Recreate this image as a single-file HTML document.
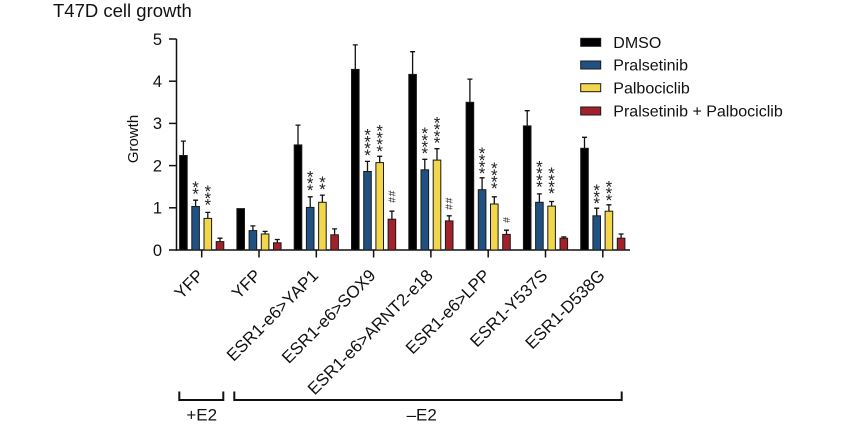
<!DOCTYPE html>
<html><head><meta charset="utf-8"><style>
html,body{margin:0;padding:0;background:#fff;}
svg{display:block;font-family:"Liberation Sans",Arial,sans-serif;}
</style></head><body>
<svg width="864" height="432" viewBox="0 0 864 432" xmlns="http://www.w3.org/2000/svg">
<text x="53" y="17" font-size="18.5" fill="#111">T47D cell growth</text>

<!-- y axis -->
<g stroke="#111" stroke-width="1.5" fill="none">
<line x1="176.5" y1="39" x2="176.5" y2="250.7"/>
<line x1="169" y1="250" x2="176.5" y2="250"/>
<line x1="169" y1="207.8" x2="176.5" y2="207.8"/>
<line x1="169" y1="165.6" x2="176.5" y2="165.6"/>
<line x1="169" y1="123.4" x2="176.5" y2="123.4"/>
<line x1="169" y1="81.2" x2="176.5" y2="81.2"/>
<line x1="169" y1="39" x2="176.5" y2="39"/>
<line x1="175.8" y1="250" x2="630" y2="250"/>
<line x1="201.7" y1="250" x2="201.7" y2="257.5"/>
<line x1="259" y1="250" x2="259" y2="257.5"/>
<line x1="316.3" y1="250" x2="316.3" y2="257.5"/>
<line x1="373.6" y1="250" x2="373.6" y2="257.5"/>
<line x1="430.9" y1="250" x2="430.9" y2="257.5"/>
<line x1="488.2" y1="250" x2="488.2" y2="257.5"/>
<line x1="545.5" y1="250" x2="545.5" y2="257.5"/>
<line x1="602.8" y1="250" x2="602.8" y2="257.5"/>
</g>
<g font-size="16.5" fill="#111" text-anchor="end">
<text x="162" y="255.8">0</text>
<text x="162" y="213.6">1</text>
<text x="162" y="171.4">2</text>
<text x="162" y="129.2">3</text>
<text x="162" y="87">4</text>
<text x="162" y="44.8">5</text>
</g>
<text transform="translate(138,139) rotate(-90)" text-anchor="middle" font-size="15" fill="#111">Growth</text>

<!-- error bars -->
<g stroke="#111" stroke-width="1.3" fill="none">
<path d="M183.4 155.5V141.1M180.9 141.1H185.9"/>
<path d="M195.6 206.5V200.2M193.1 200.2H198.1"/>
<path d="M207.8 218.4V212.4M205.3 212.4H210.3"/>
<path d="M220 241.6V238.2M217.5 238.2H222.5"/>

<path d="M252.9 230.6V225.9M250.4 225.9H255.4"/>
<path d="M265.1 234V231.4M262.6 231.4H267.6"/>
<path d="M277.3 242.8V239.5M274.8 239.5H279.8"/>

<path d="M298 144.9V125.1M295.5 125.1H300.5"/>
<path d="M310.2 207.4V196.8M307.7 196.8H312.7"/>
<path d="M322.4 202.3V195.1M319.9 195.1H324.9"/>
<path d="M334.6 234.8V228.9M332.1 228.9H337.1"/>

<path d="M355.3 69.4V44.9M352.8 44.9H357.8"/>
<path d="M367.5 171.5V161.4M365 161.4H370"/>
<path d="M379.7 162.6V156.3M377.2 156.3H382.2"/>
<path d="M391.9 219.2V211.2M389.4 211.2H394.4"/>

<path d="M412.6 74.4V51.7M410.1 51.7H415.1"/>
<path d="M424.8 169.8V159.3M422.3 159.3H427.3"/>
<path d="M437 160.1V148.7M434.5 148.7H439.5"/>
<path d="M449.2 220.9V215.8M446.7 215.8H451.7"/>

<path d="M469.9 102.3V79.1M467.4 79.1H472.4"/>
<path d="M482.1 189.7V177.8M479.6 177.8H484.6"/>
<path d="M494.3 204V196.8M491.8 196.8H496.8"/>
<path d="M506.5 234.4V230.2M504 230.2H509"/>

<path d="M527.2 125.9V110.7M524.7 110.7H529.7"/>
<path d="M539.4 202.3V193.9M536.9 193.9H541.9"/>
<path d="M551.6 206.1V201.5M549.1 201.5H554.1"/>
<path d="M563.8 238.2V236.9M561.3 236.9H566.3"/>

<path d="M584.5 148.3V137.3M582 137.3H587"/>
<path d="M596.7 215.8V208.2M594.2 208.2H599.2"/>
<path d="M608.9 211.2V204.8M606.4 204.8H611.4"/>
<path d="M621.1 238.2V234M618.6 234H623.6"/>
</g>

<!-- bars -->
<g stroke="#1a1a1a" stroke-width="1">
<g fill="#000">
<rect x="179.6" y="155.5" width="7.6" height="94.5"/>
<rect x="236.9" y="208.6" width="7.6" height="41.4"/>
<rect x="294.2" y="144.9" width="7.6" height="105.1"/>
<rect x="351.5" y="69.4" width="7.6" height="180.6"/>
<rect x="408.8" y="74.4" width="7.6" height="175.6"/>
<rect x="466.1" y="102.3" width="7.6" height="147.7"/>
<rect x="523.4" y="125.9" width="7.6" height="124.1"/>
<rect x="580.7" y="148.3" width="7.6" height="101.7"/>
</g>
<g fill="#1f5282">
<rect x="191.8" y="206.5" width="7.6" height="43.5"/>
<rect x="249.1" y="230.6" width="7.6" height="19.4"/>
<rect x="306.4" y="207.4" width="7.6" height="42.6"/>
<rect x="363.7" y="171.5" width="7.6" height="78.5"/>
<rect x="421" y="169.8" width="7.6" height="80.2"/>
<rect x="478.3" y="189.7" width="7.6" height="60.3"/>
<rect x="535.6" y="202.3" width="7.6" height="47.7"/>
<rect x="592.9" y="215.8" width="7.6" height="34.2"/>
</g>
<g fill="#f2d64b">
<rect x="204" y="218.4" width="7.6" height="31.6"/>
<rect x="261.3" y="234" width="7.6" height="16"/>
<rect x="318.6" y="202.3" width="7.6" height="47.7"/>
<rect x="375.9" y="162.6" width="7.6" height="87.4"/>
<rect x="433.2" y="160.1" width="7.6" height="89.9"/>
<rect x="490.5" y="204" width="7.6" height="46"/>
<rect x="547.8" y="206.1" width="7.6" height="43.9"/>
<rect x="605.1" y="211.2" width="7.6" height="38.8"/>
</g>
<g fill="#a3212a">
<rect x="216.2" y="241.6" width="7.6" height="8.4"/>
<rect x="273.5" y="242.8" width="7.6" height="7.2"/>
<rect x="330.8" y="234.8" width="7.6" height="15.2"/>
<rect x="388.1" y="219.2" width="7.6" height="30.8"/>
<rect x="445.4" y="220.9" width="7.6" height="29.1"/>
<rect x="502.7" y="234.4" width="7.6" height="15.6"/>
<rect x="560" y="238.2" width="7.6" height="11.8"/>
<rect x="617.3" y="238.2" width="7.6" height="11.8"/>
</g>
</g>

<!-- significance stars -->
<g font-size="17" fill="#222" text-anchor="middle" transform="translate(0,0.5)">
<text><tspan x="195.6" y="199">*</tspan><tspan x="195.6" y="192.3">*</tspan></text>
<text><tspan x="207.8" y="210">*</tspan><tspan x="207.8" y="203.3">*</tspan><tspan x="207.8" y="196.6">*</tspan></text>
<text><tspan x="310.2" y="195.3">*</tspan><tspan x="310.2" y="188.6">*</tspan><tspan x="310.2" y="181.9">*</tspan></text>
<text><tspan x="322.4" y="194.3">*</tspan><tspan x="322.4" y="187.6">*</tspan></text>
<text><tspan x="367.5" y="160.3">*</tspan><tspan x="367.5" y="153.6">*</tspan><tspan x="367.5" y="146.9">*</tspan><tspan x="367.5" y="140.2">*</tspan></text>
<text><tspan x="379.7" y="156.3">*</tspan><tspan x="379.7" y="149.6">*</tspan><tspan x="379.7" y="142.9">*</tspan><tspan x="379.7" y="136.2">*</tspan></text>
<text><tspan x="424.8" y="158.7">*</tspan><tspan x="424.8" y="152">*</tspan><tspan x="424.8" y="145.3">*</tspan><tspan x="424.8" y="138.6">*</tspan></text>
<text><tspan x="437" y="148">*</tspan><tspan x="437" y="141.3">*</tspan><tspan x="437" y="134.6">*</tspan><tspan x="437" y="127.9">*</tspan></text>
<text><tspan x="482.1" y="178.7">*</tspan><tspan x="482.1" y="172">*</tspan><tspan x="482.1" y="165.3">*</tspan><tspan x="482.1" y="158.6">*</tspan></text>
<text><tspan x="494.3" y="193.7">*</tspan><tspan x="494.3" y="187">*</tspan><tspan x="494.3" y="180.3">*</tspan><tspan x="494.3" y="173.6">*</tspan></text>
<text><tspan x="539.4" y="192">*</tspan><tspan x="539.4" y="185.3">*</tspan><tspan x="539.4" y="178.6">*</tspan><tspan x="539.4" y="171.9">*</tspan></text>
<text><tspan x="551.6" y="198.7">*</tspan><tspan x="551.6" y="192">*</tspan><tspan x="551.6" y="185.3">*</tspan><tspan x="551.6" y="178.6">*</tspan></text>
<text><tspan x="596.7" y="208.7">*</tspan><tspan x="596.7" y="202">*</tspan><tspan x="596.7" y="195.3">*</tspan></text>
<text><tspan x="608.9" y="205.3">*</tspan><tspan x="608.9" y="198.6">*</tspan><tspan x="608.9" y="191.9">*</tspan></text>
</g>
<g font-size="10" fill="#222" text-anchor="middle">
<text transform="translate(391.9,193.5) rotate(90)" dy="3.6">#</text>
<text transform="translate(391.9,200) rotate(90)" dy="3.6">#</text>
<text transform="translate(449.2,200.5) rotate(90)" dy="3.6">#</text>
<text transform="translate(449.2,207) rotate(90)" dy="3.6">#</text>
<text transform="translate(506.5,220) rotate(90)" dy="3.6">#</text>
</g>

<!-- x labels -->
<g font-size="17" fill="#111" text-anchor="end">
<text transform="translate(204.7,276.5) rotate(-45)">YFP</text>
<text transform="translate(262,276.5) rotate(-45)">YFP</text>
<text transform="translate(319.3,276.5) rotate(-45)">ESR1-e6&gt;YAP1</text>
<text transform="translate(376.6,276.5) rotate(-45)">ESR1-e6&gt;SOX9</text>
<text transform="translate(433.9,276.5) rotate(-45)">ESR1-e6&gt;ARNT2-e18</text>
<text transform="translate(491.2,276.5) rotate(-45)">ESR1-e6&gt;LPP</text>
<text transform="translate(548.5,276.5) rotate(-45)">ESR1-Y537S</text>
<text transform="translate(605.8,276.5) rotate(-45)">ESR1-D538G</text>
</g>

<!-- brackets -->
<g stroke="#111" stroke-width="2" fill="none">
<path d="M179.3 391.5V400H223.3V391.5"/>
<path d="M234.3 391.5V400H621.7V391.5"/>
</g>
<g font-size="17" fill="#111" text-anchor="middle">
<text x="201.7" y="420.5">+E2</text>
<text x="421.7" y="420.5">–E2</text>
</g>

<!-- legend -->
<g stroke="#1a1a1a" stroke-width="1">
<rect x="580.7" y="38.3" width="20" height="8" fill="#000"/>
<rect x="580.7" y="61" width="20" height="8" fill="#1f5282"/>
<rect x="580.7" y="83.7" width="20" height="8" fill="#f2d64b"/>
<rect x="580.7" y="107" width="20" height="8" fill="#a3212a"/>
</g>
<g font-size="16" fill="#111">
<text x="613.3" y="48">DMSO</text>
<text x="613.3" y="70.7">Pralsetinib</text>
<text x="613.3" y="93.4">Palbociclib</text>
<text x="613.3" y="116.7">Pralsetinib + Palbociclib</text>
</g>
</svg>
</body></html>
